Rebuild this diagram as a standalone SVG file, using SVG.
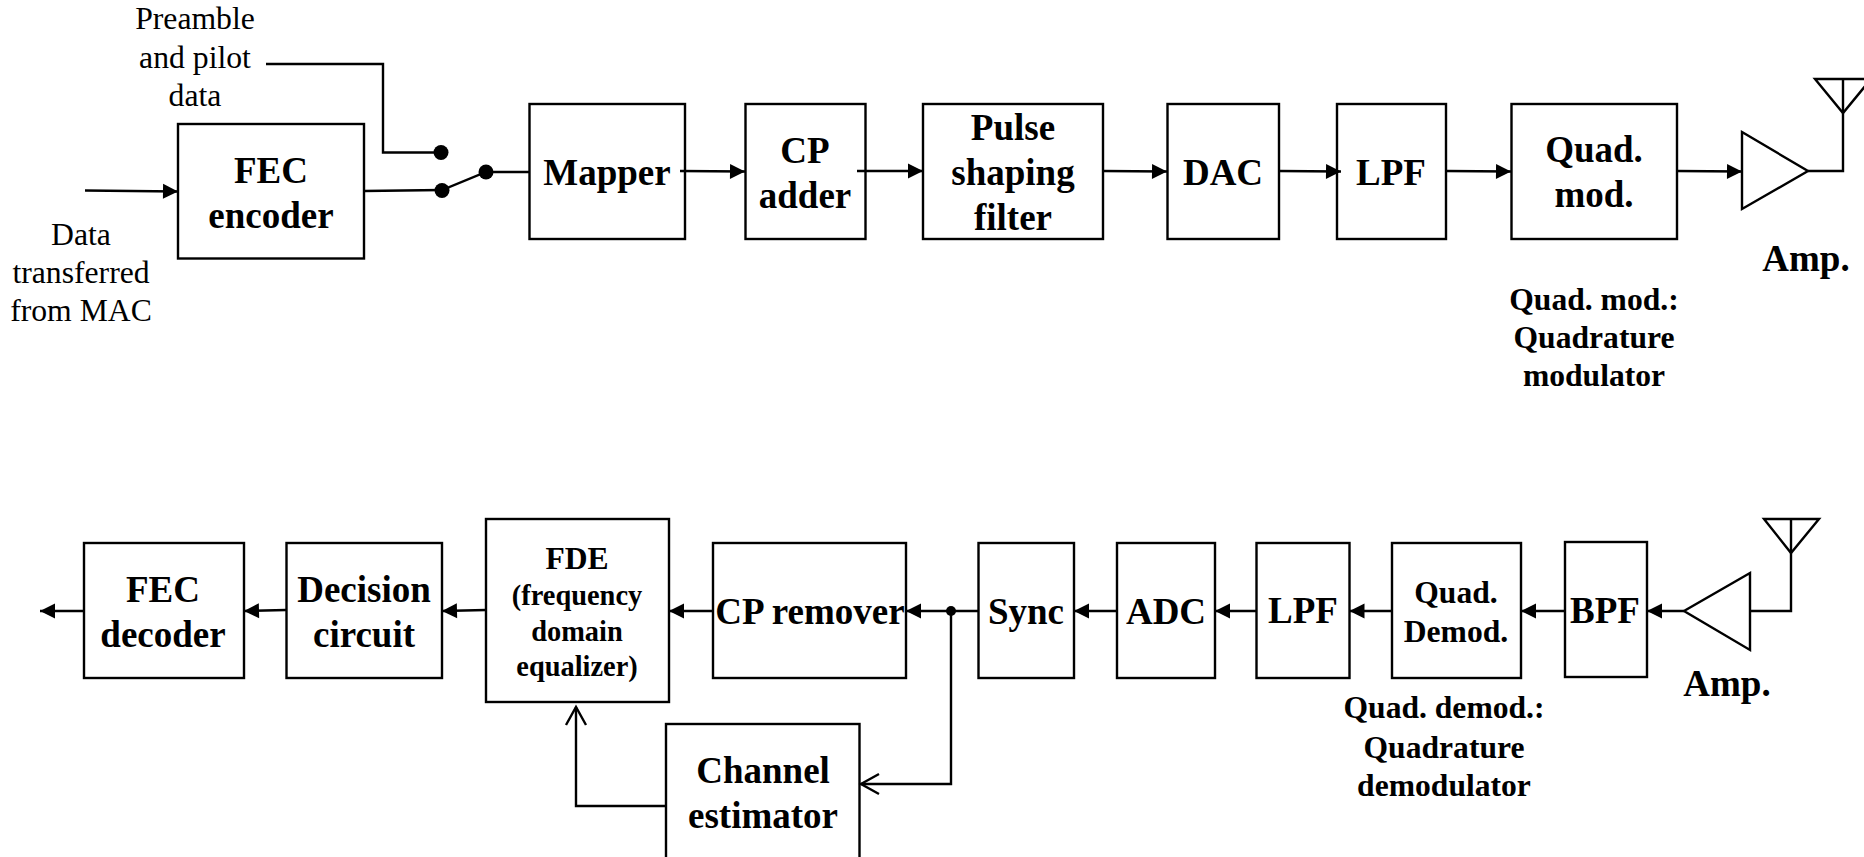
<svg xmlns="http://www.w3.org/2000/svg" width="1864" height="857" viewBox="0 0 1864 857">
<style>
.b{fill:#fff;stroke:#000;stroke-width:2.4;stroke-linejoin:miter}
.o{fill:none;stroke:#000;stroke-width:2.4;stroke-linejoin:miter}
.a{marker-end:url(#ah)}
.v{marker-end:url(#op)}
text{font-family:"Liberation Serif","Times New Roman",serif;text-anchor:middle;fill:#000}
.t36{font-size:37px;font-weight:bold}
.t31{font-size:31.6px;font-weight:bold}
.t28{font-size:28.4px;font-weight:bold}
.r31{font-size:31.7px}
</style>
<defs>
<marker id="ah" markerUnits="userSpaceOnUse" markerWidth="16" markerHeight="16" refX="15" refY="8" orient="auto" overflow="visible"><path d="M0 0.5L15 8L0 15.5Z" fill="#000"/></marker>
<marker id="op" markerUnits="userSpaceOnUse" markerWidth="20" markerHeight="24" refX="18" refY="10" orient="auto" overflow="visible"><path d="M0 0L18 10L0 20" fill="none" stroke="#000" stroke-width="2.4"/></marker>
</defs>

<g id="fec-encoder"><rect class="b" x="178" y="124" width="186" height="134.5"/><text class="t36" x="271" y="183">FEC</text><text class="t36" x="271" y="228">encoder</text></g>
<g id="mapper"><rect class="b" x="529.5" y="104" width="155.5" height="135"/><text class="t36" x="607" y="185">Mapper</text></g>
<g id="cp-adder"><rect class="b" x="745.5" y="104" width="120" height="135"/><text class="t36" x="805" y="163">CP</text><text class="t36" x="805" y="208">adder</text></g>
<g id="pulse-shaping-filter"><rect class="b" x="923" y="104" width="180" height="135"/><text class="t36" x="1013" y="140">Pulse</text><text class="t36" x="1013" y="185">shaping</text><text class="t36" x="1013" y="230">filter</text></g>
<g id="dac"><rect class="b" x="1167.5" y="104" width="111.5" height="135"/><text class="t36" x="1223" y="185">DAC</text></g>
<g id="lpf-tx"><rect class="b" x="1337" y="104" width="109" height="135"/><text class="t36" x="1391" y="185">LPF</text></g>
<g id="quad-mod"><rect class="b" x="1511.5" y="104" width="165.5" height="135"/><text class="t36" x="1594" y="162">Quad.</text><text class="t36" x="1594" y="207">mod.</text></g>
<g id="amp-tx"><path class="b" d="M1742 132L1808 171L1742 209Z"/><text class="t36" x="1806" y="271">Amp.</text></g>
<g id="antenna-tx"><path class="o" d="M1815 79H1871L1843 113Z"/><path class="o" d="M1843 79V171H1808"/></g>

<g id="label-preamble"><text class="r31" x="195" y="29">Preamble</text><text class="r31" x="195" y="68">and pilot</text><text class="r31" x="195" y="106">data</text></g>
<g id="label-data"><text class="r31" x="81" y="245">Data</text><text class="r31" x="81" y="283">transferred</text><text class="r31" x="81" y="321">from MAC</text></g>
<g id="label-quad-mod"><text class="t31" x="1594" y="310">Quad. mod.:</text><text class="t31" x="1594" y="348">Quadrature</text><text class="t31" x="1594" y="386">modulator</text></g>

<g id="fec-decoder"><rect class="b" x="84" y="543" width="160" height="135"/><text class="t36" x="163" y="602">FEC</text><text class="t36" x="163" y="647">decoder</text></g>
<g id="decision-circuit"><rect class="b" x="286.5" y="543" width="155.5" height="135"/><text class="t36" x="364" y="602">Decision</text><text class="t36" x="364" y="647">circuit</text></g>
<g id="fde"><rect class="b" x="486" y="519" width="183" height="183"/><text class="t31" x="577" y="569">FDE</text><text class="t28" x="577" y="605">(frequency</text><text class="t28" x="577" y="641">domain</text><text class="t28" x="577" y="676">equalizer)</text></g>
<g id="cp-remover"><rect class="b" x="713" y="543" width="193" height="135"/><text class="t36" x="810" y="624">CP remover</text></g>
<g id="sync"><rect class="b" x="978.5" y="543" width="95.5" height="135"/><text class="t36" x="1026" y="624">Sync</text></g>
<g id="adc"><rect class="b" x="1117" y="543" width="98" height="135"/><text class="t36" x="1166" y="624">ADC</text></g>
<g id="lpf-rx"><rect class="b" x="1256.5" y="543" width="93" height="135"/><text class="t36" x="1303" y="623">LPF</text></g>
<g id="quad-demod"><rect class="b" x="1392" y="543" width="129" height="135"/><text class="t31" x="1456" y="603">Quad.</text><text class="t31" x="1456" y="642">Demod.</text></g>
<g id="bpf"><rect class="b" x="1565" y="542" width="82" height="135"/><text class="t36" x="1605" y="623">BPF</text></g>
<g id="amp-rx"><path class="b" d="M1750 573L1684 611L1750 650Z"/><text class="t36" x="1727" y="696">Amp.</text></g>
<g id="antenna-rx"><path class="o" d="M1764 519H1819L1791 553Z"/><path class="o" d="M1791 519V611H1750"/></g>
<g id="channel-estimator"><rect class="b" x="666" y="724" width="193.5" height="150"/><text class="t36" x="763" y="783">Channel</text><text class="t36" x="763" y="828">estimator</text></g>
<g id="label-quad-demod"><text class="t31" x="1444" y="718">Quad. demod.:</text><text class="t31" x="1444" y="758">Quadrature</text><text class="t31" x="1444" y="796">demodulator</text></g>

<g id="connectors">
<path class="o a" d="M85 190.5L178 191.5"/>
<path class="o" d="M266 64H383V152.5H441"/>
<path class="o" d="M364 191L442 190L486 172H529.5"/>
<circle cx="441" cy="152.5" r="7.5"/>
<circle cx="442" cy="190.5" r="7.5"/>
<circle cx="486" cy="172" r="7.5"/>
<path class="o a" d="M680 171L745 171.5"/>
<path class="o a" d="M857 171H923"/>
<path class="o a" d="M1103 171L1167 171.5"/>
<path class="o a" d="M1279 171L1341 171.5"/>
<path class="o a" d="M1446 171L1511 171.5"/>
<path class="o a" d="M1677 171L1742 171.5"/>

<path class="o a" d="M1684 611H1647"/>
<path class="o a" d="M1565 611H1521"/>
<path class="o a" d="M1392 611H1349.5"/>
<path class="o a" d="M1256 611H1215"/>
<path class="o a" d="M1117 611H1074"/>
<path class="o a" d="M978 611H906"/>
<circle cx="951" cy="611" r="5"/>
<path class="o a" d="M713 611H669"/>
<path class="o a" d="M486 610L442 611"/>
<path class="o a" d="M286 610L244 611"/>
<path class="o a" d="M84 611H40"/>
<path class="o v" d="M951 611V784H861"/>
<path class="o v" d="M666 806H576V707"/>
</g>
</svg>
